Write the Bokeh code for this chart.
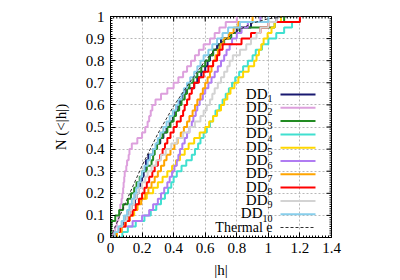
import numpy as np
from bokeh.plotting import figure
from bokeh.models import FixedTicker, Label, Arrow
from bokeh.embed import file_html
from bokeh.resources import INLINE

# ---- data: sorted |h| samples of each DD set (empirical CDF) ----
dd1 = [0.03, 0.06, 0.08, 0.10, 0.12, 0.135, 0.155, 0.165, 0.18, 0.19, 0.20, 0.21, 0.22, 0.225,
       0.24, 0.27, 0.29, 0.315, 0.335, 0.355, 0.375, 0.395, 0.41, 0.43, 0.44, 0.455, 0.48, 0.53,
       0.55, 0.575, 0.60, 0.615, 0.63, 0.65, 0.675, 0.70, 0.75, 0.80, 0.89, 1.05]
dd2 = [0.015, 0.03, 0.04, 0.05, 0.057, 0.062, 0.07, 0.075, 0.08, 0.083, 0.087, 0.09, 0.10, 0.105,
       0.115, 0.12, 0.135, 0.17, 0.20, 0.22, 0.235, 0.245, 0.255, 0.265, 0.285, 0.32, 0.36, 0.40,
       0.43, 0.46, 0.485, 0.51, 0.535, 0.56, 0.59, 0.63, 0.66, 0.69, 0.73, 0.80]
dd3 = [0.002, 0.004, 0.006, 0.03, 0.055, 0.08, 0.11, 0.13, 0.15, 0.165, 0.185, 0.20, 0.23, 0.26,
       0.27, 0.28, 0.295, 0.31, 0.33, 0.36, 0.38, 0.40, 0.415, 0.435, 0.45, 0.47, 0.485, 0.50,
       0.525, 0.55, 0.575, 0.60, 0.625, 0.65, 0.69, 0.72, 0.765, 0.82, 1.04, 1.10]
dd4 = [0.075, 0.11, 0.16, 0.215, 0.255, 0.29, 0.32, 0.345, 0.365, 0.385, 0.40, 0.42, 0.45, 0.48,
       0.515, 0.535, 0.555, 0.57, 0.59, 0.61, 0.63, 0.65, 0.665, 0.69, 0.71, 0.73, 0.75, 0.77,
       0.79, 0.815, 0.84, 0.87, 0.90, 0.92, 0.96, 1.00, 1.05, 1.10, 1.15, 1.20]
dd5 = [0.04, 0.07, 0.095, 0.12, 0.15, 0.17, 0.185, 0.23, 0.27, 0.30, 0.33, 0.36, 0.39, 0.415,
       0.44, 0.47, 0.495, 0.53, 0.565, 0.60, 0.625, 0.65, 0.675, 0.70, 0.72, 0.74, 0.76, 0.785,
       0.81, 0.84, 0.875, 0.91, 0.925, 0.94, 0.955, 0.97, 0.995, 1.02, 1.04, 1.08]
dd6 = [0.025, 0.07, 0.14, 0.20, 0.245, 0.27, 0.30, 0.32, 0.34, 0.36, 0.375, 0.39, 0.405, 0.42,
       0.43, 0.44, 0.455, 0.47, 0.485, 0.50, 0.515, 0.525, 0.54, 0.55, 0.565, 0.585, 0.60, 0.62,
       0.64, 0.66, 0.68, 0.70, 0.72, 0.735, 0.755, 0.77, 0.80, 0.83, 0.87, 0.95]
dd7 = [0.04, 0.07, 0.095, 0.12, 0.145, 0.17, 0.195, 0.22, 0.24, 0.26, 0.28, 0.30, 0.32, 0.34,
       0.355, 0.38, 0.405, 0.425, 0.445, 0.465, 0.485, 0.50, 0.52, 0.535, 0.55, 0.57, 0.585, 0.60,
       0.615, 0.63, 0.64, 0.65, 0.665, 0.68, 0.695, 0.715, 0.75, 0.78, 0.81, 0.90]
dd8 = [0.025, 0.06, 0.095, 0.12, 0.14, 0.16, 0.18, 0.20, 0.215, 0.23, 0.245, 0.265, 0.28, 0.30,
       0.315, 0.33, 0.345, 0.36, 0.38, 0.40, 0.42, 0.445, 0.46, 0.47, 0.485, 0.50, 0.515, 0.53,
       0.56, 0.59, 0.62, 0.65, 0.675, 0.69, 0.71, 0.83, 0.89, 0.95, 1.00, 1.20]
dd9 = [0.025, 0.05, 0.075, 0.10, 0.12, 0.135, 0.15, 0.165, 0.18, 0.20, 0.22, 0.235, 0.26, 0.29,
       0.32, 0.35, 0.385, 0.42, 0.46, 0.50, 0.535, 0.57, 0.59, 0.61, 0.63, 0.645, 0.66, 0.68,
       0.70, 0.72, 0.74, 0.755, 0.775, 0.82, 0.86, 0.89, 0.925, 0.95, 1.00, 1.05]
dd10 = [0.025, 0.05, 0.07, 0.085, 0.105, 0.12, 0.135, 0.15, 0.163, 0.175, 0.19, 0.20, 0.215, 0.235,
        0.25, 0.27, 0.285, 0.30, 0.315, 0.335, 0.355, 0.375, 0.395, 0.415, 0.43, 0.45, 0.465, 0.485,
        0.505, 0.53, 0.55, 0.57, 0.59, 0.62, 0.645, 0.675, 0.71, 0.745, 0.82, 1.00]

thermal_h = [0.0, 0.1, 0.2, 0.3, 0.4, 0.5, 0.6, 0.7, 0.8, 0.9, 1.0, 1.1, 1.2]
thermal_n = [0.0, 0.165, 0.325, 0.47, 0.595, 0.70, 0.80, 0.88, 0.935, 0.97, 0.99, 0.998, 1.0]

series = [dd1, dd2, dd3, dd4, dd5, dd6, dd7, dd8, dd9, dd10]
subscripts = ["1", "2", "3", "4", "5", "6", "7", "8", "9", "10"]
colors = ["#191970", "#dda0dd", "#228b22", "#40e0d0", "#ffd700",
          "#b07cf2", "#ffa500", "#ff0000", "#d3d3d3", "#87ceeb"]
thermal_label = "Thermal e"

x_ticks = [0.0, 0.2, 0.4, 0.6, 0.8, 1.0, 1.2, 1.4]
x_tick_labels = ["0", "0.2", "0.4", "0.6", "0.8", "1", "1.2", "1.4"]
y_ticks = [0.0, 0.1, 0.2, 0.3, 0.4, 0.5, 0.6, 0.7, 0.8, 0.9, 1.0]
y_tick_labels = ["0", "0.1", "0.2", "0.3", "0.4", "0.5", "0.6", "0.7", "0.8", "0.9", "1"]

FONT = "'Liberation Serif', 'Times New Roman', serif"
X0, X1, Y0, Y1 = 0.0, 1.4, 0.0, 1.0
FW, FH = 221, 221

p = figure(width=400, height=280, x_range=(X0, X1), y_range=(Y0, Y1),
           output_backend="svg", toolbar_location=None,
           min_border_left=110, min_border_right=69, min_border_top=16, min_border_bottom=43)
p.background_fill_color = "white"
p.border_fill_color = "white"
p.outline_line_color = "black"
p.outline_line_alpha = 1.0
p.outline_line_width = 1

x_minor = [float(v) for v in np.round(np.arange(0, 1.4001, 0.02), 3)]
y_minor = [float(v) for v in np.round(np.arange(0, 1.0001, 0.01), 3)]
xt = FixedTicker(ticks=x_ticks, minor_ticks=x_minor)
yt = FixedTicker(ticks=y_ticks, minor_ticks=y_minor)

def style_axis(ax, ticker, labels):
    ax.ticker = ticker
    ax.axis_line_color = "black"
    ax.major_tick_in = 5
    ax.major_tick_out = 0
    ax.minor_tick_in = 2
    ax.minor_tick_out = 0
    ax.major_tick_line_color = "black"
    ax.minor_tick_line_color = "black"
    ax.major_label_text_font = FONT
    ax.major_label_text_font_size = "15px"
    ax.major_label_text_color = "black"
    ax.major_label_overrides = labels

style_axis(p.xaxis[0], xt, dict(zip(x_ticks, x_tick_labels)))
style_axis(p.yaxis[0], yt, dict(zip(y_ticks, y_tick_labels)))
p.xaxis[0].major_label_standoff = 5
p.yaxis[0].major_label_standoff = 6
p.xaxis[0].axis_label = "|h|"
p.yaxis[0].axis_label = "N (<|h|)"
for ax in (p.xaxis[0], p.yaxis[0]):
    ax.axis_label_text_font = FONT
    ax.axis_label_text_font_size = "15px"
    ax.axis_label_text_font_style = "normal"
    ax.axis_label_text_color = "black"
p.xaxis[0].axis_label_standoff = 6
p.yaxis[0].axis_label_standoff = 14

for g, t in ((p.xgrid[0], xt), (p.ygrid[0], yt)):
    g.ticker = t
    g.grid_line_color = "#b8b8b8"
    g.grid_line_dash = "2 2"
    g.grid_line_width = 1

# mirrored ticks on the top and right frame edges
kx_major, kx_minor = 5 / FH * (Y1 - Y0), 2 / FH * (Y1 - Y0)
ky_major, ky_minor = 5 / FW * (X1 - X0), 2 / FW * (X1 - X0)
p.segment(x0=x_ticks, y0=[Y1] * len(x_ticks), x1=x_ticks, y1=[Y1 - kx_major] * len(x_ticks),
          line_color="black", line_width=1)
p.segment(x0=x_minor, y0=[Y1] * len(x_minor), x1=x_minor, y1=[Y1 - kx_minor] * len(x_minor),
          line_color="black", line_width=1)
p.segment(x0=[X1] * len(y_ticks), y0=y_ticks, x1=[X1 - ky_major] * len(y_ticks), y1=y_ticks,
          line_color="black", line_width=1)
p.segment(x0=[X1] * len(y_minor), y0=y_minor, x1=[X1 - ky_minor] * len(y_minor), y1=y_minor,
          line_color="black", line_width=1)

# ---- curves ----
for vals, c in zip(series, colors):
    n = len(vals)
    xs = [0.0] + sorted(vals)
    ys = [k / n for k in range(n + 1)]
    p.step(xs, ys, mode="after", line_color=c, line_width=2)

p.line(thermal_h, thermal_n, line_color="#303030", line_width=1, line_dash="3 2")

# ---- manual legend (text left, sample right), positions in frame pixels ----
def dx(px):  # frame pixel -> data x
    return X0 + px / FW * (X1 - X0)

def dy(py):  # frame pixel from top -> data y
    return Y1 - py / FH * (Y1 - Y0)

row0, row_step = 78.0, 13.3
text_right = 162.0
line_x0, line_x1 = 170.0, 205.0
for i, (sub, c) in enumerate(zip(subscripts, colors)):
    yy = row0 + i * row_step
    sub_w = 5.0 * len(sub)
    p.add_layout(Label(x=dx(text_right - sub_w), y=dy(yy), text="DD", text_align="right",
                       text_baseline="middle", text_font=FONT, text_font_size="15px",
                       text_color="black", y_offset=1))
    p.add_layout(Label(x=dx(text_right), y=dy(yy + 4), text=sub, text_align="right",
                       text_baseline="middle", text_font=FONT, text_font_size="10px",
                       text_color="black"))
    p.add_layout(Arrow(end=None, x_start=dx(line_x0), y_start=dy(yy), x_end=dx(line_x1),
                       y_end=dy(yy), line_color=c, line_width=2))
yy = row0 + 10 * row_step
p.add_layout(Label(x=dx(text_right), y=dy(yy), text=thermal_label, text_align="right",
                   text_baseline="middle", text_font=FONT, text_font_size="14px",
                   text_color="black"))
p.add_layout(Arrow(end=None, x_start=dx(line_x0), y_start=dy(yy), x_end=dx(line_x1),
                   y_end=dy(yy), line_color="#303030", line_width=1, line_dash="3 2"))

open("out.html", "w").write(file_html(p, INLINE))
